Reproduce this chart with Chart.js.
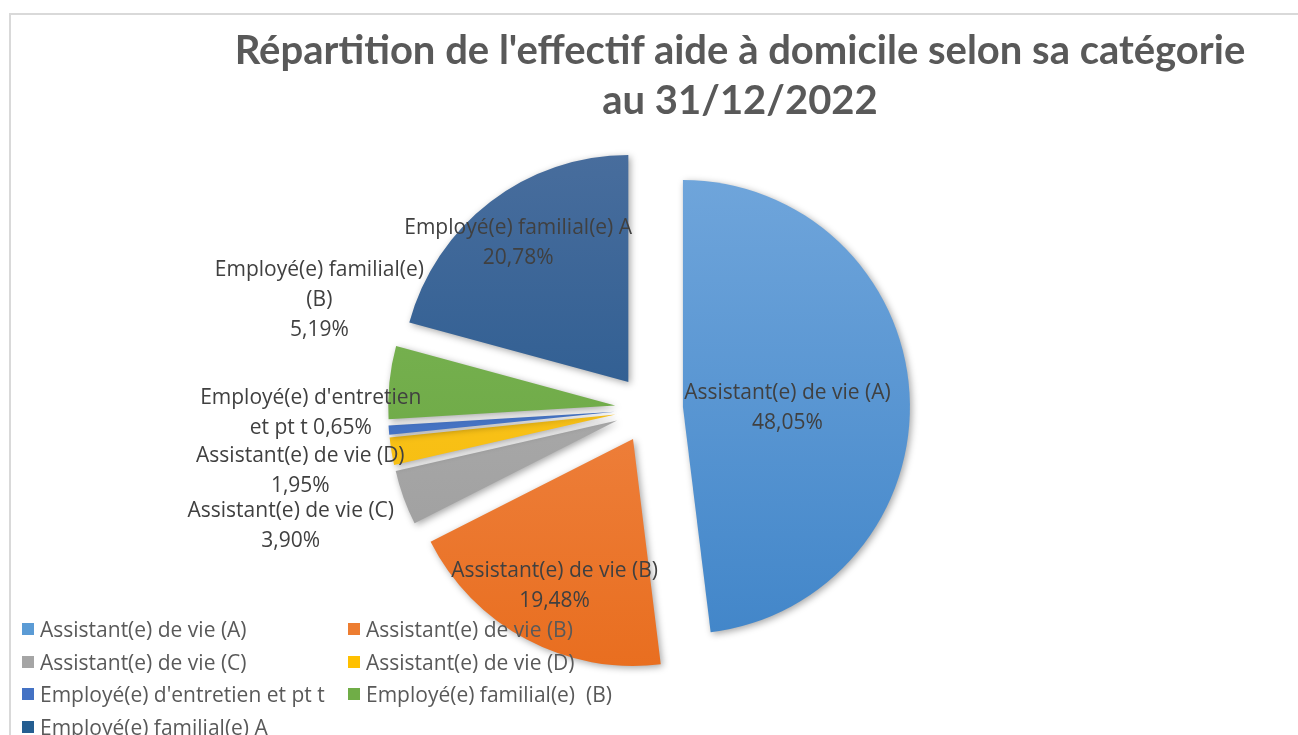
<!DOCTYPE html>
<html lang="fr">
<head>
<meta charset="utf-8">
<title>Répartition de l'effectif aide à domicile</title>
<script src="https://cdn.jsdelivr.net/npm/chart.js@4/dist/chart.umd.min.js"></script>
<style>
    html, body { margin: 0; padding: 0; background: #fff; }
    body { width: 1298px; height: 735px; overflow: hidden; position: relative; font-family: "Open Sans", Lato, sans-serif; }
    #frame { position: absolute; left: 9px; top: 13px; right: -2px; bottom: -2px; border-top: 2px solid #d9d9d9; border-left: 2px solid #d9d9d9; }
    #wrap { position: absolute; left: 0; top: 0; width: 1298px; height: 735px; }
    #title { position: absolute; left: 145px; width: 1190px; top: 24px; text-align: center; font-family: Lato, sans-serif; font-weight: bold; font-size: 40px; line-height: 50px; color: #595959; }
    #legend { position: absolute; left: 22px; top: 616px; display: grid; grid-template-columns: 326px 320px; row-gap: 6.5px; font-size: 21px; color: #595959; }
    #legend div { display: flex; align-items: center; height: 26px; white-space: pre; }
    #legend span.box { width: 12px; height: 12px; margin-right: 6px; flex: none; }
</style>
</head>
<body>
<div id="frame"></div>
<div id="wrap"><canvas id="pieChart"></canvas></div>
<div id="title">Répartition de l'effectif aide à domicile selon sa catégorie<br>au 31/12/2022</div>
<div id="legend"></div>
<script>
    // data
    const categories = [
        "Assistant(e) de vie (A)",
        "Assistant(e) de vie (B)",
        "Assistant(e) de vie (C)",
        "Assistant(e) de vie (D)",
        "Employé(e) d'entretien et pt t",
        "Employé(e) familial(e)  (B)",
        "Employé(e) familial(e) A"
    ];
    const percentages = [48.05, 19.48, 3.90, 1.95, 0.65, 5.19, 20.78];

    // how each data label is broken into lines
    const labelLines = [
        ["Assistant(e) de vie (A)", "48,05%"],
        ["Assistant(e) de vie (B)", "19,48%"],
        ["Assistant(e) de vie (C)", "3,90%"],
        ["Assistant(e) de vie (D)", "1,95%"],
        ["Employé(e) d'entretien", "et pt t 0,65%"],
        ["Employé(e) familial(e)", "(B)", "5,19%"],
        ["Employé(e) familial(e) A", "20,78%"]
    ];

    // colours: top / bottom of each slice gradient, and legend swatch
    const topColors = ["#72a7dc", "#f28f55", "#b5b5b5", "#ffcb2e", "#5582cf", "#7fb95a", "#4b6f9e"];
    const bottomColors = ["#3f84c8", "#e86c1c", "#999999", "#f2b700", "#3765b8", "#64a03a", "#1a5189"];
    const swatchColors = ["#5b9bd5", "#ed7d31", "#a5a5a5", "#ffc000", "#4472c4", "#70ad47", "#255e91"];

    // label placement: distance from centre (x radius) and angle tweak (deg)
    const labelDist = [0.61, 0.885, 1.66, 1.56, 1.49, 1.53, 0.93];
    const labelTurn = [3, 0, 1.8, -0.7, 3.9, 12.5, -0.9];

    const RADIUS = 227;
    const EXPLODE = 34;

    // legend (html, built from the same arrays)
    let legendElem = document.getElementById("legend");
    categories.forEach(function (name, i) {
        let item = document.createElement("div");
        let box = document.createElement("span");
        box.className = "box";
        box.style.background = swatchColors[i];
        item.appendChild(box);
        item.appendChild(document.createTextNode(name));
        legendElem.appendChild(item);
    });

    function sliceGradient(context) {
        let chart = context.chart;
        let area = chart.chartArea;
        if (!area) return swatchColors[context.dataIndex];
        let cy = (area.top + area.bottom) / 2;
        let g = chart.ctx.createLinearGradient(0, cy - RADIUS - EXPLODE, 0, cy + RADIUS + EXPLODE);
        g.addColorStop(0, topColors[context.dataIndex]);
        g.addColorStop(1, bottomColors[context.dataIndex]);
        return g;
    }

    // draw each arc pushed out along its bisector, with a soft shadow
    const explodePlugin = {
        id: "explode",
        beforeDatasetDraw(chart, args) {
            let ctx = chart.ctx;
            args.meta.data.forEach(function (arc) {
                let mid = (arc.startAngle + arc.endAngle) / 2;
                ctx.save();
                ctx.translate(Math.cos(mid) * EXPLODE, Math.sin(mid) * EXPLODE);
                ctx.shadowColor = "rgba(0,0,0,0.35)";
                ctx.shadowBlur = 7;
                ctx.shadowOffsetX = 2;
                ctx.shadowOffsetY = 2;
                arc.draw(ctx);
                ctx.restore();
            });
            return false;
        }
    };

    const labelPlugin = {
        id: "sliceLabels",
        afterDatasetsDraw(chart) {
            let ctx = chart.ctx;
            let meta = chart.getDatasetMeta(0);
            ctx.save();
            ctx.font = "21px 'Open Sans', Lato, sans-serif";
            ctx.fillStyle = "#404040";
            ctx.textAlign = "center";
            ctx.textBaseline = "middle";
            meta.data.forEach(function (arc, i) {
                let mid = (arc.startAngle + arc.endAngle) / 2 + labelTurn[i] * Math.PI / 180;
                let d = labelDist[i] * arc.outerRadius;
                let x = arc.x + Math.cos(mid) * d;
                let y = arc.y + Math.sin(mid) * d;
                let lines = labelLines[i];
                let lh = 30;
                let y0 = y - (lines.length - 1) * lh / 2;
                lines.forEach(function (t, k) {
                    ctx.fillText(t, x, y0 + k * lh);
                });
            });
            ctx.restore();
        }
    };

    let ctx = document.getElementById("pieChart").getContext("2d");
    new Chart(ctx, {
        type: "pie",
        data: {
            labels: categories,
            datasets: [{
                data: percentages,
                backgroundColor: sliceGradient,
                borderWidth: 0
            }]
        },
        options: {
            responsive: true,
            maintainAspectRatio: false,
            animation: false,
            radius: RADIUS,
            layout: { padding: { top: 83, bottom: 0 } },
            plugins: {
                legend: { display: false },
                title: { display: false },
                tooltip: { enabled: false }
            }
        },
        plugins: [explodePlugin, labelPlugin]
    });
</script>
</body>
</html>
